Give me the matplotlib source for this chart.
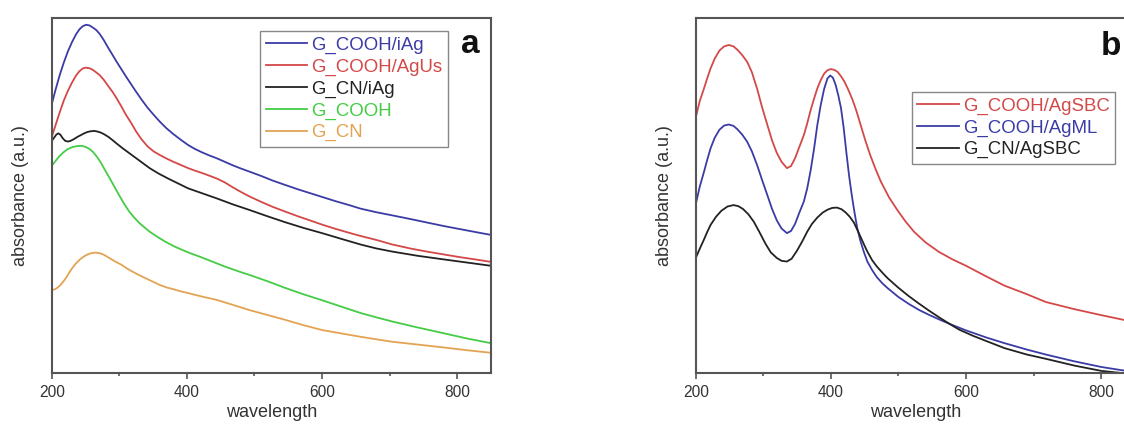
import matplotlib
matplotlib.use("Agg")
import matplotlib.pyplot as plt

plt.rcParams['font.family'] = ['Liberation Sans', 'DejaVu Sans']

# ---------------- Panel a data: (wavelength nm, absorbance a.u.) ----------------
a_cooh_iag = [(201,0.764),(206,0.800),(212,0.840),(218,0.875),(224,0.906),(230,0.932),(236,0.954),(241,0.968),(246,0.977),(251,0.981),(256,0.979),(261,0.973),(266,0.966),(271,0.955),(277,0.938),(283,0.918),(290,0.896),(296,0.877),(303,0.856),(310,0.835),(318,0.812),(325,0.792),(333,0.770),(342,0.747),(351,0.727),(360,0.708),(370,0.689),(380,0.673),(391,0.657),(402,0.642),(412,0.631),(423,0.621),(433,0.613),(444,0.605),(456,0.595),(468,0.585),(480,0.576),(493,0.567),(510,0.555),(527,0.542),(545,0.530),(565,0.517),(585,0.505),(600,0.496),(620,0.484),(640,0.473),(657,0.463),(680,0.453),(704,0.444),(730,0.434),(755,0.424),(780,0.414),(805,0.405),(830,0.396),(850,0.389)]

a_cooh_agus = [(201,0.670),(206,0.700),(212,0.735),(218,0.768),(224,0.795),(230,0.818),(236,0.838),(241,0.850),(246,0.858),(250,0.860),(255,0.859),(260,0.855),(265,0.848),(271,0.839),(277,0.826),(283,0.810),(290,0.792),(296,0.774),(303,0.751),(310,0.727),(318,0.703),(325,0.680),(333,0.658),(342,0.638),(351,0.624),(360,0.614),(370,0.604),(380,0.595),(391,0.586),(402,0.577),(412,0.570),(423,0.563),(433,0.556),(444,0.548),(456,0.537),(468,0.523),(480,0.510),(493,0.497),(510,0.482),(527,0.468),(545,0.455),(565,0.441),(585,0.428),(600,0.418),(620,0.406),(640,0.395),(657,0.386),(680,0.375),(704,0.362),(730,0.351),(755,0.342),(780,0.334),(805,0.326),(830,0.319),(850,0.313)]

a_cn_iag = [(201,0.656),(204,0.664),(207,0.672),(210,0.675),(213,0.671),(216,0.662),(220,0.654),(224,0.652),(228,0.654),(233,0.659),(238,0.665),(243,0.670),(248,0.675),(253,0.679),(258,0.681),(263,0.682),(268,0.680),(273,0.677),(278,0.672),(284,0.665),(290,0.656),(297,0.645),(305,0.633),(315,0.619),(325,0.605),(335,0.591),(345,0.577),(358,0.562),(372,0.548),(387,0.534),(402,0.520),(423,0.506),(444,0.492),(468,0.475),(493,0.459),(520,0.441),(545,0.425),(572,0.409),(600,0.394),(630,0.377),(657,0.362),(680,0.351),(704,0.342),(742,0.330),(780,0.320),(815,0.311),(850,0.302)]

a_cooh = [(201,0.586),(206,0.598),(211,0.610),(217,0.621),(223,0.630),(230,0.636),(237,0.639),(244,0.640),(250,0.637),(256,0.631),(261,0.623),(267,0.609),(273,0.592),(279,0.571),(286,0.548),(293,0.524),(300,0.500),(308,0.474),(315,0.454),(323,0.436),(330,0.422),(338,0.409),(345,0.398),(356,0.384),(368,0.370),(381,0.357),(394,0.346),(407,0.336),(420,0.327),(432,0.318),(444,0.309),(456,0.300),(468,0.292),(480,0.284),(493,0.276),(520,0.258),(545,0.240),(572,0.222),(600,0.205),(630,0.186),(657,0.169),(680,0.157),(704,0.145),(742,0.128),(780,0.112),(815,0.097),(850,0.084)]

a_cn = [(201,0.234),(205,0.236),(209,0.241),(213,0.248),(217,0.257),(222,0.270),(226,0.283),(231,0.297),(236,0.309),(243,0.322),(250,0.331),(257,0.337),(264,0.339),(270,0.338),(275,0.335),(280,0.330),(286,0.323),(294,0.314),(303,0.305),(311,0.295),(320,0.285),(330,0.275),(340,0.266),(350,0.257),(360,0.248),(370,0.241),(380,0.236),(391,0.230),(402,0.225),(423,0.215),(444,0.206),(468,0.192),(493,0.177),(520,0.163),(545,0.150),(572,0.135),(600,0.121),(630,0.111),(657,0.102),(680,0.095),(704,0.088),(742,0.080),(780,0.072),(815,0.064),(850,0.057)]

# ---------------- Panel b data ----------------
b_cooh_agsbc = [(201,0.727),(206,0.766),(212,0.800),(217,0.830),(222,0.858),(228,0.885),(235,0.908),(242,0.920),(249,0.924),(256,0.920),(262,0.910),(269,0.895),(276,0.877),(283,0.848),(291,0.800),(298,0.750),(306,0.699),(313,0.655),(320,0.620),(327,0.595),(335,0.577),(341,0.583),(347,0.605),(353,0.635),(360,0.670),(365,0.703),(370,0.740),(375,0.772),(380,0.802),(385,0.825),(390,0.843),(395,0.853),(400,0.856),(405,0.854),(410,0.848),(415,0.836),(420,0.821),(426,0.797),(432,0.770),(438,0.737),(444,0.699),(451,0.655),(458,0.615),(466,0.575),(474,0.539),(486,0.495),(498,0.460),(510,0.428),(523,0.398),(540,0.368),(560,0.341),(580,0.320),(600,0.302),(630,0.272),(657,0.246),(690,0.222),(718,0.200),(760,0.180),(800,0.163),(830,0.151),(850,0.143)]

b_cooh_agml = [(201,0.483),(206,0.525),(212,0.565),(217,0.600),(222,0.633),(228,0.662),(235,0.685),(242,0.697),(249,0.700),(256,0.696),(262,0.686),(269,0.671),(276,0.652),(283,0.625),(291,0.585),(298,0.545),(306,0.501),(313,0.462),(320,0.430),(327,0.407),(335,0.394),(341,0.400),(347,0.420),(353,0.450),(360,0.483),(365,0.520),(370,0.570),(375,0.630),(380,0.699),(385,0.755),(390,0.800),(395,0.830),(399,0.838),(403,0.832),(407,0.812),(411,0.782),(415,0.746),(419,0.690),(423,0.620),(427,0.555),(431,0.500),(435,0.452),(439,0.408),(444,0.370),(449,0.340),(454,0.314),(461,0.290),(468,0.270),(476,0.253),(484,0.239),(500,0.214),(515,0.195),(530,0.178),(545,0.164),(560,0.151),(580,0.135),(600,0.120),(630,0.100),(657,0.084),(690,0.066),(718,0.052),(760,0.033),(800,0.017),(830,0.008),(850,0.003)]

b_cn_agsbc = [(201,0.328),(206,0.350),(212,0.375),(217,0.397),(222,0.417),(230,0.440),(238,0.457),(247,0.469),(256,0.473),(263,0.470),(270,0.462),(278,0.447),(286,0.426),(294,0.398),(303,0.365),(311,0.340),(320,0.324),(327,0.316),(335,0.314),(342,0.322),(350,0.345),(358,0.372),(365,0.398),(372,0.420),(380,0.438),(388,0.452),(395,0.460),(402,0.465),(409,0.466),(416,0.461),(422,0.452),(428,0.440),(434,0.424),(439,0.404),(444,0.383),(449,0.362),(454,0.342),(461,0.318),(468,0.300),(476,0.283),(484,0.267),(500,0.240),(515,0.217),(530,0.196),(545,0.176),(560,0.157),(575,0.139),(590,0.122),(610,0.105),(630,0.090),(657,0.070),(690,0.052),(718,0.040),(760,0.021),(800,0.006),(830,0.000),(850,-0.003)]

labels_a = ["G_COOH/iAg", "G_COOH/AgUs", "G_CN/iAg", "G_COOH", "G_CN"]
labels_b = ["G_COOH/AgSBC", "G_COOH/AgML", "G_CN/AgSBC"]
colors_a = ["#3b3ba6", "#d44848", "#222222", "#45cc45", "#e3a352"]
colors_b = ["#d44848", "#3b3ba6", "#222222"]
x_ticks = [200, 400, 600, 800]
x_minor = [300, 500, 700]

panel_a = list(zip(labels_a, [a_cooh_iag, a_cooh_agus, a_cn_iag, a_cooh, a_cn], colors_a))
panel_b = list(zip(labels_b, [b_cooh_agsbc, b_cooh_agml, b_cn_agsbc], colors_b))

W, H = 1124, 428
fig = plt.figure(figsize=(W / 100, H / 100), dpi=100)
fig.patch.set_facecolor("white")

ax_w = 439.3 / W
ax_h = 355 / H
ax_b = 55 / H
axa = fig.add_axes([51.7 / W, ax_b, ax_w, ax_h])
axb = fig.add_axes([695.7 / W, ax_b, ax_w, ax_h])

spine_c = "#555555"
text_c = "#333333"

def style(ax, series, leg_anchor, letter, letter_pos):
    for label, pts, c in series:
        xs = [p[0] for p in pts]
        ys = [p[1] for p in pts]
        ax.plot(xs, ys, color=c, lw=1.3, label=label)
    ax.set_xlim(200, 850)
    ax.set_ylim(0, 1)
    ax.set_xticks(x_ticks)
    ax.set_xticks(x_minor, minor=True)
    ax.set_yticks([])
    ax.tick_params(axis='x', which='major', direction='out', length=4.3, width=1.2,
                   colors=spine_c, labelcolor=text_c, labelsize=11.2, pad=4)
    ax.tick_params(axis='x', which='minor', direction='out', length=2.2, width=1.2, colors=spine_c)
    for s in ax.spines.values():
        s.set_color(spine_c)
        s.set_linewidth(1.5)
    ax.set_xlabel("wavelength", fontsize=13, color=text_c, labelpad=3)
    ax.set_ylabel("absorbance (a.u.)", fontsize=13, color=text_c, labelpad=16)
    leg = ax.legend(loc="upper left", bbox_to_anchor=leg_anchor, borderaxespad=0,
                    fontsize=13.4, labelcolor="linecolor", frameon=True, fancybox=False,
                    edgecolor="#888888", framealpha=1, handlelength=2.25,
                    handletextpad=0.2, labelspacing=0.25, borderpad=0.3)
    leg.get_frame().set_linewidth(1.0)
    ax.text(letter_pos[0], letter_pos[1], letter, transform=ax.transAxes,
            fontsize=24, fontweight="bold", ha="center", va="center", color="#111111")

style(axa, panel_a, (0.474, 0.963), "a", (0.952, 0.924))
style(axb, panel_b, (0.492, 0.792), "b", (0.945, 0.921))

fig.savefig("out.png", dpi=100)
